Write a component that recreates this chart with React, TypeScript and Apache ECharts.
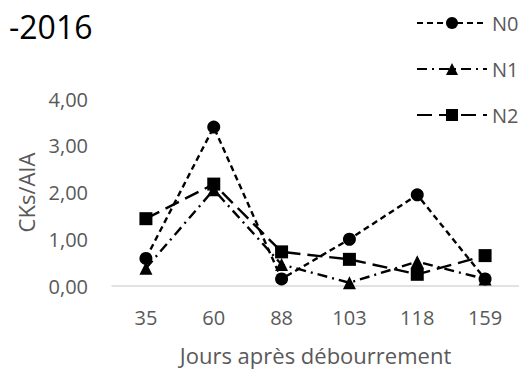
import React, { useEffect, useRef } from "react";
import * as echarts from "echarts";

const categories = ["35", "60", "88", "103", "118", "159"];
const n0 = [0.59, 3.4, 0.15, 1.0, 1.95, 0.15];
const n1 = [0.38, 2.06, 0.46, 0.07, 0.52, 0.15];
const n2 = [1.44, 2.18, 0.73, 0.57, 0.25, 0.65];
const seriesNames = ["N0", "N1", "N2"];
const titleText = "-2016";
const yName = "CKs/AIA";
const xName = "Jours après débourrement";

const FONT = "'Open Sans', 'Noto Sans', sans-serif";
const GREY = "#595959";

export default function App() {
  const ref = useRef<HTMLDivElement>(null);
  useEffect(() => {
    if (!ref.current) return;
    const chart = echarts.init(ref.current, null, { renderer: "svg" });
    const mk = (name: string, data: number[], symbol: string, dash: any, size: number) => ({
      name,
      type: "line",
      data,
      symbol,
      symbolSize: size,
      itemStyle: { color: "#000" },
      lineStyle: { color: "#000", width: 2.4, type: dash },
      emphasis: { disabled: true },
    });
    chart.setOption({
      animation: false,
      textStyle: { fontFamily: FONT },
      title: {
        text: titleText,
        left: 4,
        top: 5,
        textStyle: { fontSize: 32, fontWeight: "normal", color: "#000", fontFamily: FONT },
      },
      legend: {
        orient: "vertical",
        left: 411,
        top: 8,
        itemWidth: 70,
        itemHeight: 15,
        itemGap: 26,
        textStyle: { color: GREY, fontSize: 20, fontFamily: FONT },
        data: seriesNames,
      },
      grid: { left: 112, right: 0, top: 99, bottom: 81, containLabel: false },
      xAxis: {
        type: "category",
        data: categories,
        boundaryGap: true,
        axisLine: { lineStyle: { color: "#d9d9d9", width: 1.5 } },
        axisTick: { show: false },
        axisLabel: { color: GREY, fontSize: 20, margin: 21, fontFamily: FONT },
        name: xName,
        nameLocation: "middle",
        nameGap: 58,
        nameTextStyle: { color: GREY, fontSize: 22, fontFamily: FONT },
      },
      yAxis: {
        type: "value",
        min: 0,
        max: 4,
        interval: 1,
        splitLine: { show: false },
        axisLine: { show: false },
        axisTick: { show: false },
        axisLabel: {
          color: GREY,
          fontSize: 20,
          margin: 24,
          fontFamily: FONT,
          formatter: (v: number) => v.toFixed(2).replace(".", ","),
        },
        name: yName,
        nameLocation: "middle",
        nameGap: 75,
        nameTextStyle: { color: GREY, fontSize: 22, fontFamily: FONT },
      },
      series: [
        mk(seriesNames[0], n0, "circle", [6, 4], 13),
        mk(seriesNames[1], n1, "triangle", [10, 5, 2, 5], 13),
        mk(seriesNames[2], n2, "rect", [15, 7], 13),
      ],
    });
    return () => chart.dispose();
  }, []);
  return <div ref={ref} style={{ width: 519, height: 371, position: "absolute", left: 0, top: 0 }} />;
}
